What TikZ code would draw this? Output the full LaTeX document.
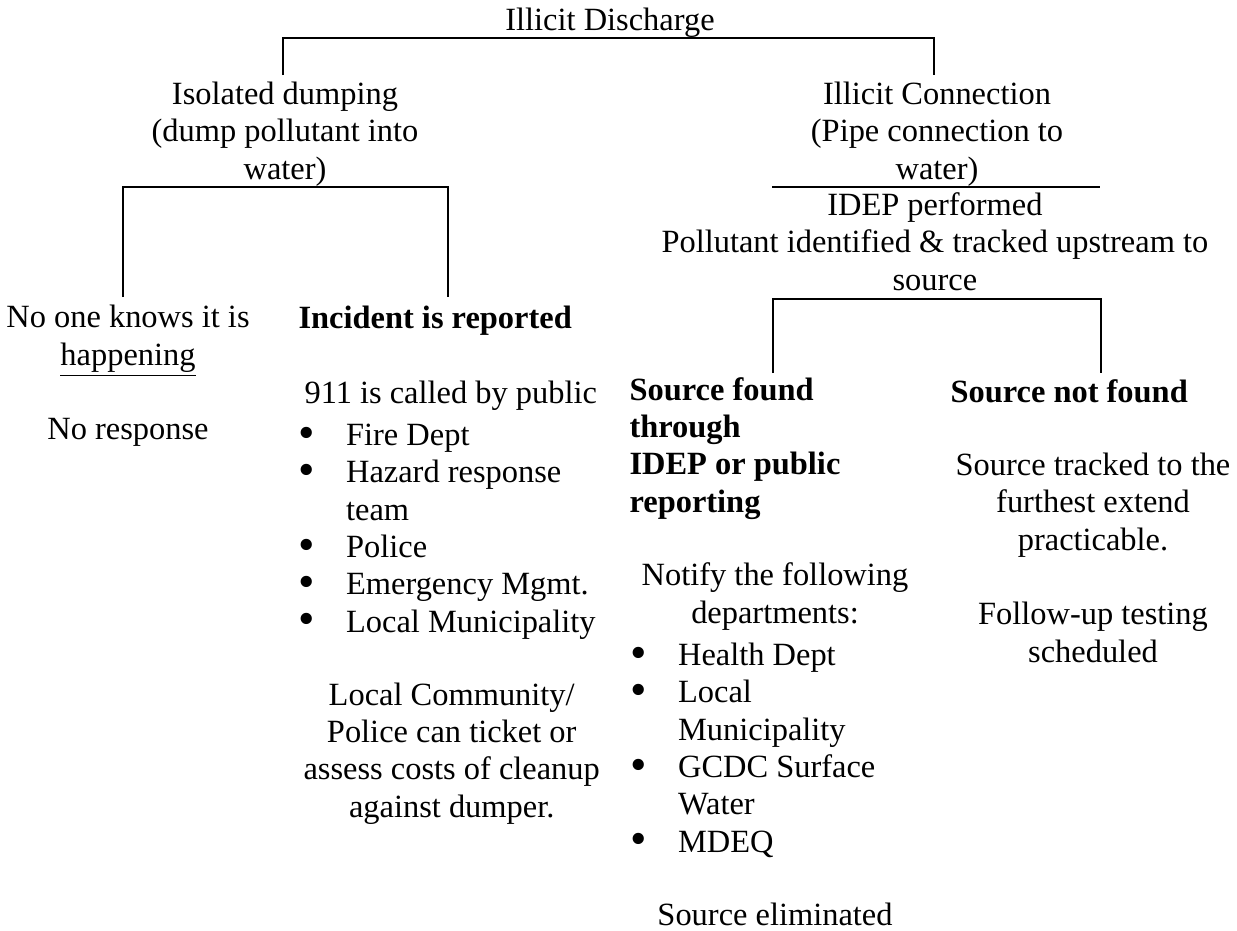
\documentclass[tikz,border=0pt]{standalone}
\usepackage{fontspec}
\setmainfont{Liberation Serif}
\newcommand{\bul}{\makebox[17.6pt][l]{\smash{\raisebox{-0.08em}{\scalebox{1.45}{\textbullet}}}}}
\newcommand{\ind}{\hspace*{17.6pt}}

\begin{document}
\begin{tikzpicture}[x=0.37pt, y=-0.37pt,
  every node/.style={font=\fontsize{12pt}{13.8pt}\selectfont, inner sep=0pt},
  label/.style={anchor=base, align=center},
  leftlabel/.style={anchor=base west, align=left},
  boxlabel/.style={anchor=base west, align=center},
  head/.style={leftlabel, font=\fontsize{12pt}{13.8pt}\selectfont\bfseries},
  branch/.style={line width=0.75pt}]

  \useasboundingbox (0,0) rectangle (1237,930);

  % Top level
  \node[label] (D) at (610,30) {Illicit Discharge};

  % Second level (base = last line)
  \node[label] (ID) at (285,179) {Isolated dumping\\(dump pollutant into\\water)};
  \node[label] (IC) at (937,179) {Illicit Connection\\(Pipe connection to\\water)};
  \node[boxlabel] (IDEP) at (661,290) {IDEP performed\\Pollutant identified \& tracked upstream to\\source};

  % Isolated dumping branch
  \node[label] (NK) at (128,365) {No one knows it is\\\underline{happening}};
  \node[label] (NR) at (128,439) {No response};
  \node[head] (IR) at (298,328) {Incident is reported};
  \node[leftlabel] (CALL) at (304,403) {911 is called by public};
  \node[leftlabel] (CL) at (298,632) {\bul Fire Dept\\\bul Hazard response\\\ind team\\\bul Police\\\bul Emergency Mgmt.\\\bul Local Municipality};
  \node[boxlabel] (LC) at (303,817) {Local Community/\\Police can ticket or\\assess costs of cleanup\\against dumper.};

  % Illicit connection branch
  \node[head] (SF) at (629,512) {Source found\\through\\IDEP or public\\reporting};
  \node[head] (SN) at (950,402) {Source not found};
  \node[label] (NT) at (775,623) {Notify the following\\departments:};
  \node[leftlabel] (NL) at (630,852) {\bul Health Dept\\\bul Local\\\ind Municipality\\\bul GCDC Surface\\\ind Water\\\bul MDEQ};
  \node[label] (SE) at (775,925) {Source eliminated};
  \node[label] (ST) at (1093,550) {Source tracked to the\\furthest extend\\practicable.};
  \node[label] (FU) at (1093,662) {Follow-up testing\\scheduled};

  % Bracket ends
  \coordinate (G1) at (283,75);
  \coordinate (G2) at (934,75);
  \coordinate (Gr) at (934,38);
  \coordinate (H1) at (123,297);
  \coordinate (H2) at (448,297);
  \coordinate (Hr) at (448,187);
  \coordinate (K1) at (772,187);
  \coordinate (K2) at (1100,187);
  \coordinate (J1) at (773,373);
  \coordinate (J2) at (1101,373);
  \coordinate (Jr) at (1101,299);

  % Brackets
  \draw[branch] (G1) |- (Gr) -- (G2);
  \draw[branch] (H1) |- (Hr) -- (H2);
  \draw[branch] (K1) -- (K2);
  \draw[branch] (J1) |- (Jr) -- (J2);

\end{tikzpicture}
\end{document}
